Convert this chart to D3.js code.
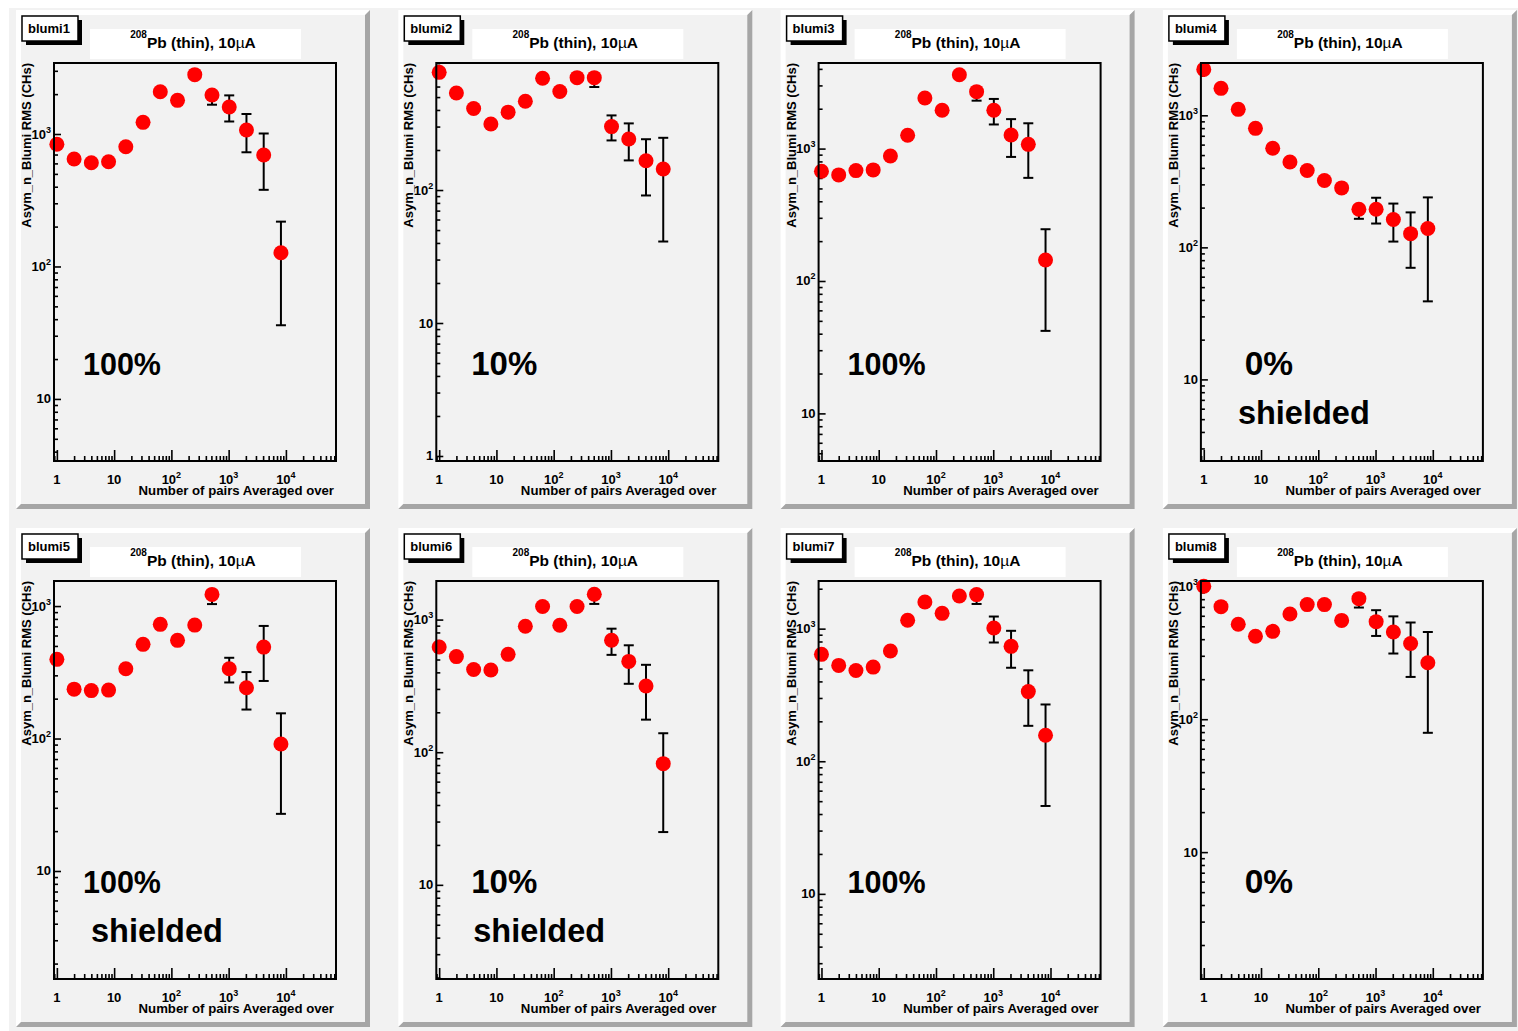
<!DOCTYPE html>
<html>
<head>
<meta charset="utf-8">
<script src="https://cdn.jsdelivr.net/npm/d3@7"></script>
<style>
	body { margin: 0; background: #ffffff; }
	svg { display: block; font-family: "Liberation Sans", Arial, sans-serif; font-weight: bold; }
</style>
</head>
<body>
<svg width="1518" height="1031"></svg>
<script>

var pairs = [1, 2, 4, 8, 16, 32, 64, 128, 256, 512, 1024, 2048, 4096, 8192];

var rms1 = [836, 647, 607, 618, 802, 1225, 2083, 1795, 2805, 1968, 1600, 1072, 694, 127];
var err1 = [4, 5, 7, 10, 18, 37, 94, 108, 224, 304, 357, 344, 315, 91];
var rms2 = [767, 537, 410, 314, 385, 465, 692, 550, 700, 700, 300, 242, 166, 144];
var err2 = [4, 4, 5, 5, 8, 14, 31, 33, 56, 105, 64, 75, 75, 103];
var rms3 = [675, 633, 682, 690, 879, 1260, 2410, 1946, 3614, 2692, 1946, 1267, 1077, 144];
var err3 = [3, 5, 8, 11, 19, 38, 108, 117, 289, 391, 425, 402, 476, 102];
var rms4 = [2228, 1600, 1110, 797, 563, 443, 382, 321, 282, 194.5, 194.5, 162.6, 127, 139];
var err4 = [11, 13, 12, 13, 12, 13, 17, 19, 23, 30, 43, 52, 57, 100];
var rms5 = [396, 236, 230, 232, 336, 514, 728, 551, 718, 1225, 336, 241.5, 490, 91];
var err5 = [2, 2, 3, 4, 7, 15, 33, 33, 57, 190, 71, 76, 218, 64];
var rms6 = [621, 526, 420, 417, 547, 890, 1254, 906, 1254, 1553, 698, 484, 316, 82];
var err6 = [3, 4, 5, 7, 12, 27, 56, 54, 100, 241, 156, 156, 140, 57];
var rms7 = [640, 528, 484, 513, 678, 1156, 1588, 1304, 1762, 1806, 1010, 735, 335, 157];
var err7 = [3, 4, 5, 8, 15, 35, 71, 78, 141, 271, 224, 228, 150, 111];
var rms8 = [1000, 703, 518, 421, 458, 618, 728, 728, 554, 807, 542, 453, 371, 266];
var err8 = [5, 6, 6, 7, 10, 19, 33, 44, 44, 115, 119, 141, 163, 187];

var padNames = ["blumi1", "blumi2", "blumi3", "blumi4", "blumi5", "blumi6", "blumi7", "blumi8"];
var pctText = ["100%", "10%", "100%", "0%", "100%", "10%", "100%", "0%"];
var noteText = ["", "", "", "shielded", "shielded", "shielded", "", ""];
var yMin = [3.40, 0.917, 4.37, 2.41, 1.53, 1.95, 2.28, 1.11];
var yMax = [3436, 902, 4430, 2490, 1546, 1954, 2287, 1096];
var xRange = [0.891, 75000];
var xMajors = [1, 10, 100, 1000, 10000];

var titleIso = "208";
var titleMain = "Pb (thin), 10";
var titleUnit = "\u00b5";
var titleEnd = "A";
var xTitle = "Number of pairs Averaged over";
var yTitle = "Asym_n_Blumi RMS (CHs)";

var allRms = [rms1, rms2, rms3, rms4, rms5, rms6, rms7, rms8];
var allErr = [err1, err2, err3, err4, err5, err6, err7, err8];

var padX0 = 16, padDX = 382.3, padY0 = 10, padDY = 518, padW = 354, padH = 499, bev = 5;
var fx0 = 38, fx1 = 320, fy0 = 53, fy1 = 451;
var R = 7.5;
// pave text is auto-sized in the original, so the short labels come out bigger
var bigSize = {"100%": 30.5, "10%": 33, "0%": 33.5};

function tickLabel(t, v){
	var e = Math.round(Math.log10(v));
	if (e < 2) {
		t.text(v);
	} else {
		t.text("10");
		t.append("tspan").attr("dy", -6).attr("font-size", 9).text(e);
	}
};

function drawPad(svg, k){
	var col = k % 4, row = Math.floor(k / 4);
	var g = svg.append("g")
		.attr("transform", "translate(" + (padX0 + col * padDX) + "," + (padY0 + row * padDY) + ")");

	g.append("rect").attr("width", padW).attr("height", padH).attr("fill", "#f2f2f2");
	g.append("polygon")
		.attr("points", [[0,0],[padW,0],[padW-bev,bev],[bev,bev],[bev,padH-bev],[0,padH]].join(" "))
		.attr("fill", "#ffffff");
	g.append("polygon")
		.attr("points", [[padW,padH],[0,padH],[bev,padH-bev],[padW-bev,padH-bev],[padW-bev,bev],[padW,0]].join(" "))
		.attr("fill", "#a6a6a6");

	var x = d3.scaleLog().domain(xRange).range([fx0, fx1]);
	var y = d3.scaleLog().domain([yMin[k], yMax[k]]).range([fy1, fy0]);

	var xt = x.ticks().filter(function(v){ return v >= xRange[0] && v <= xRange[1] });
	var yt = y.ticks().filter(function(v){ return v >= yMin[k] && v <= yMax[k] });
	var isMajor = function(v){ return Math.abs(Math.log10(v) - Math.round(Math.log10(v))) < 1e-6 };

	// x ticks, pointing into the frame
	g.append("g").attr("transform", "translate(0," + fy1 + ")")
		.call(d3.axisBottom(x).tickValues(xt.filter(function(v){ return !isMajor(v) })).tickSize(-5).tickFormat(""))
		.call(function(a){ a.select(".domain").remove() });
	g.append("g").attr("transform", "translate(0," + fy1 + ")")
		.call(d3.axisBottom(x).tickValues(xMajors).tickSize(-11).tickFormat(""))
		.call(function(a){ a.select(".domain").remove() });

	g.append("g").attr("transform", "translate(" + fx0 + ",0)")
		.call(d3.axisLeft(y).tickValues(yt.filter(function(v){ return !isMajor(v) })).tickSize(-4).tickFormat(""))
		.call(function(a){ a.select(".domain").remove() });
	g.append("g").attr("transform", "translate(" + fx0 + ",0)")
		.call(d3.axisLeft(y).tickValues(yt.filter(isMajor)).tickSize(-7).tickFormat(""))
		.call(function(a){ a.select(".domain").remove() });

	g.selectAll(".tick line").attr("stroke", "#000").attr("stroke-width", 1.6);

	xMajors.forEach(function(v){
		var t = g.append("text")
			.attr("x", x(v)).attr("y", 474)
			.attr("text-anchor", "middle").attr("font-size", 13);
		tickLabel(t, v);
	});

	yt.filter(isMajor).forEach(function(v){
		var t = g.append("text")
			.attr("x", 35).attr("y", y(v) + 4.5)
			.attr("text-anchor", "end").attr("font-size", 13);
		tickLabel(t, v);
	});

	g.append("text")
		.attr("x", fx1 - 2).attr("y", 485)
		.attr("text-anchor", "end").attr("font-size", 13.2)
		.text(xTitle);

	g.append("text")
		.attr("transform", "translate(15," + fy0 + ") rotate(-90)")
		.attr("text-anchor", "end").attr("font-size", 13)
		.text(yTitle);

	// error bars are hidden when shorter than the marker, as ROOT does
	var pts = pairs.map(function(p, i){ return {x: p, v: allRms[k][i], e: allErr[k][i]} });
	var bars = g.append("g").attr("stroke", "#000").attr("stroke-width", 2);
	pts.forEach(function(d){
		var px = x(d.x), py = y(d.v);
		var up = y(d.v + d.e);
		var lo = d.v - d.e > yMin[k] ? y(d.v - d.e) : fy1;
		if (py - up > R + 1) {
			bars.append("line").attr("x1", px).attr("x2", px).attr("y1", py).attr("y2", up);
			bars.append("line").attr("x1", px - 5).attr("x2", px + 5).attr("y1", up).attr("y2", up);
		}
		if (lo - py > R + 1) {
			bars.append("line").attr("x1", px).attr("x2", px).attr("y1", py).attr("y2", lo);
			bars.append("line").attr("x1", px - 5).attr("x2", px + 5).attr("y1", lo).attr("y2", lo);
		}
	});

	g.selectAll("circle.pt")
		.data(pts)
		.enter()
		.append("circle")
		.attr("class", "pt")
		.attr("cx", function(d){ return x(d.x) })
		.attr("cy", function(d){ return y(d.v) })
		.attr("r", R)
		.style("fill", "#ff0000");

	g.append("rect")
		.attr("x", fx0).attr("y", fy0)
		.attr("width", fx1 - fx0).attr("height", fy1 - fy0)
		.attr("fill", "none").attr("stroke", "#000").attr("stroke-width", 2);

	g.append("text")
		.attr("x", 106).attr("y", 365)
		.attr("text-anchor", "middle").attr("font-size", bigSize[pctText[k]])
		.text(pctText[k]);
	if (noteText[k]) {
		g.append("text")
			.attr("x", 75).attr("y", 414)
			.attr("font-size", 32.5)
			.text(noteText[k]);
	}

	g.append("rect").attr("x", 74).attr("y", 19).attr("width", 211).attr("height", 30).attr("fill", "#ffffff");
	var tt = g.append("text").attr("x", 177).attr("y", 38).attr("text-anchor", "middle").attr("font-size", 15.5);
	tt.append("tspan").attr("font-size", 10).attr("dy", -10).text(titleIso);
	tt.append("tspan").attr("dy", 10).text(titleMain);
	tt.append("tspan").attr("font-weight", "normal").text(titleUnit);
	tt.append("tspan").text(titleEnd);

	g.append("rect").attr("x", 10).attr("y", 10).attr("width", 56).attr("height", 25).attr("fill", "#000");
	g.append("rect").attr("x", 6).attr("y", 6).attr("width", 56).attr("height", 25)
		.attr("fill", "#ffffff").attr("stroke", "#000").attr("stroke-width", 1.5);
	g.append("text").attr("x", 12).attr("y", 23).attr("font-size", 13).text(padNames[k]);
};

window.onload = function(){
	var svg = d3.select("svg");
	svg.append("rect").attr("x", 9).attr("y", 8).attr("width", 1518).attr("height", 1031).attr("fill", "#f2f2f2");
	for (var k = 0; k < 8; k++) drawPad(svg, k);
};

</script>
</body>
</html>
